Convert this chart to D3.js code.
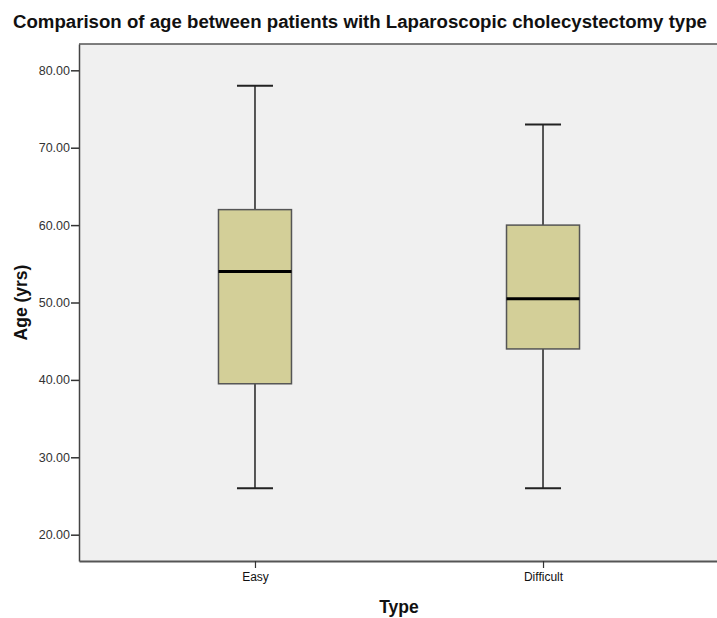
<!DOCTYPE html>
<html>
<head>
<meta charset="utf-8">
<script src="https://cdn.jsdelivr.net/npm/d3@7"></script>
<style>
  body { margin: 0; background: #fff; }
  svg { display: block; font-family: "Liberation Sans", Arial, sans-serif; }
</style>
</head>
<body>
<svg id="chart" width="717" height="618"></svg>
<script>
const types = ['Easy', 'Difficult'];
const whiskerLow = [26, 26];
const q1 = [39.5, 44];
const median = [54, 50.5];
const q3 = [62, 60];
const whiskerHigh = [78, 73];
const yTicks = [20, 30, 40, 50, 60, 70, 80];

const boxes = types.map((t, i) => ({
  type: t, lo: whiskerLow[i], q1: q1[i], med: median[i], q3: q3[i], hi: whiskerHigh[i],
}));

const svg = d3.select('#chart');
const margin = { top: 44, left: 79, right: 719, bottom: 561 };

const x = d3.scalePoint(types, [margin.left, margin.right]).padding(0.611);
const y = d3.scaleLinear([16.6, 83.4], [margin.bottom, margin.top]);

svg.append('rect').attr('x', margin.left).attr('y', margin.top)
  .attr('width', margin.right - margin.left).attr('height', margin.bottom - margin.top)
  .attr('fill', '#f0f0f0');

const boxW = 73;
const capW = 36;
const g = svg.append('g').selectAll('g').data(boxes).join('g');

g.append('line').attr('x1', (d) => x(d.type)).attr('x2', (d) => x(d.type))
  .attr('y1', (d) => y(d.hi)).attr('y2', (d) => y(d.q3)).attr('stroke', '#222').attr('stroke-width', 1.5);
g.append('line').attr('x1', (d) => x(d.type)).attr('x2', (d) => x(d.type))
  .attr('y1', (d) => y(d.q1)).attr('y2', (d) => y(d.lo)).attr('stroke', '#222').attr('stroke-width', 1.5);
g.selectAll('line.cap').data((d) => [[d.type, d.hi], [d.type, d.lo]]).join('line').attr('class', 'cap')
  .attr('x1', (d) => x(d[0]) - capW / 2).attr('x2', (d) => x(d[0]) + capW / 2)
  .attr('y1', (d) => y(d[1])).attr('y2', (d) => y(d[1])).attr('stroke', '#222').attr('stroke-width', 2);
g.append('rect').attr('x', (d) => x(d.type) - boxW / 2).attr('width', boxW)
  .attr('y', (d) => y(d.q3)).attr('height', (d) => y(d.q1) - y(d.q3))
  .attr('fill', '#d3cf98').attr('stroke', '#555').attr('stroke-width', 1.5);
g.append('line').attr('x1', (d) => x(d.type) - boxW / 2).attr('x2', (d) => x(d.type) + boxW / 2)
  .attr('y1', (d) => y(d.med)).attr('y2', (d) => y(d.med)).attr('stroke', '#000').attr('stroke-width', 3);

// frame top
svg.append('line').attr('x1', margin.left).attr('x2', margin.right).attr('y1', margin.top).attr('y2', margin.top)
  .attr('stroke', '#555').attr('stroke-width', 1.5);

const yAxis = svg.append('g').attr('transform', `translate(${margin.left},0)`)
  .call(d3.axisLeft(y).tickValues(yTicks).tickFormat(d3.format('.2f')).tickSize(8).tickPadding(1).tickSizeOuter(0));
yAxis.select('.domain').attr('stroke', '#444').attr('stroke-width', 1.5);
yAxis.selectAll('.tick line').attr('stroke', '#333').attr('stroke-width', 1.5);
yAxis.selectAll('text').attr('font-size', 12.5).attr('fill', '#333').attr('font-family', 'Liberation Sans, Arial');

const xAxis = svg.append('g').attr('transform', `translate(0,${margin.bottom})`)
  .call(d3.axisBottom(x).tickSize(7).tickPadding(4).tickSizeOuter(0));
xAxis.select('.domain').attr('stroke', '#555').attr('stroke-width', 2);
xAxis.selectAll('.tick line').attr('stroke', '#333').attr('stroke-width', 1.2);
xAxis.selectAll('text').attr('font-size', 12).attr('fill', '#111').attr('font-family', 'Liberation Sans, Arial');

svg.append('text').attr('x', 360).attr('y', 28).attr('text-anchor', 'middle')
  .attr('font-size', 18).attr('font-weight', 'bold').attr('fill', '#111')
  .attr('textLength', 694).attr('lengthAdjust', 'spacingAndGlyphs')
  .text('Comparison of age between patients with Laparoscopic cholecystectomy type');

svg.append('text').attr('transform', `translate(27,${(margin.top + margin.bottom) / 2}) rotate(-90)`)
  .attr('text-anchor', 'middle').attr('font-size', 17.5).attr('font-weight', 'bold').attr('fill', '#111')
  .text('Age (yrs)');

svg.append('text').attr('x', (margin.left + margin.right) / 2).attr('y', 613).attr('text-anchor', 'middle')
  .attr('font-size', 17.5).attr('font-weight', 'bold').attr('fill', '#111')
  .text('Type');
</script>
</body>
</html>
